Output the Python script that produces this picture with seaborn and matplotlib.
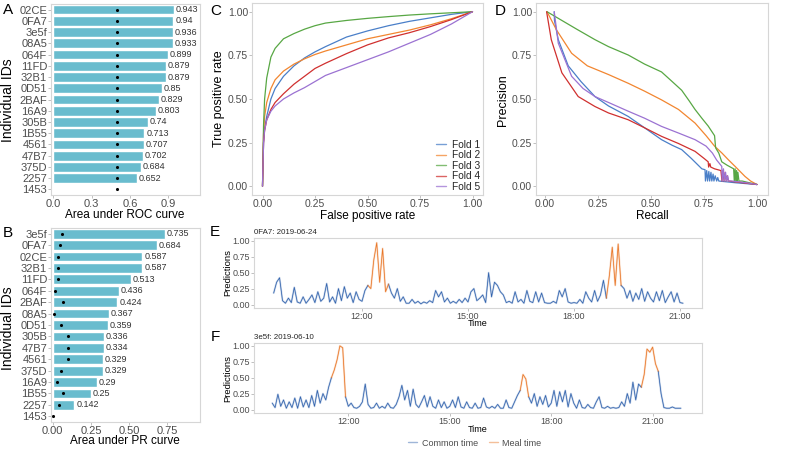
import numpy as np
import pandas as pd
import matplotlib
matplotlib.use("Agg")
import matplotlib.pyplot as plt
from matplotlib.lines import Line2D
import seaborn as sns

sns.set_theme(style="white")
plt.rcParams['font.family'] = ['Liberation Sans', 'DejaVu Sans']

# ---- A: AUC of ROC per individual (dot = random baseline)
roc_ids = ['02CE', '0FA7', '3e5f', '08A5', '064F', '11FD', '32B1', '0D51', '2BAF',
           '16A9', '305B', '1B55', '4561', '47B7', '375D', '2257', '1453']
roc_auc = [0.943, 0.94, 0.936, 0.933, 0.899, 0.879, 0.879, 0.85, 0.829,
           0.803, 0.74, 0.713, 0.707, 0.702, 0.684, 0.652, np.nan]
roc_base = [0.5, 0.5, 0.5, 0.5, 0.5, 0.5, 0.5, 0.5, 0.5,
            0.5, 0.5, 0.5, 0.5, 0.5, 0.5, 0.5, 0.5]

# ---- B: AUC of PR per individual (dot = prevalence baseline)
pr_ids = ['3e5f', '0FA7', '02CE', '32B1', '11FD', '064F', '2BAF', '08A5', '0D51',
          '305B', '47B7', '4561', '375D', '16A9', '1B55', '2257', '1453']
pr_auc = [0.735, 0.684, 0.587, 0.587, 0.513, 0.436, 0.424, 0.367, 0.359,
          0.336, 0.334, 0.329, 0.329, 0.29, 0.25, 0.142, np.nan]
pr_base = [0.059, 0.048, 0.037, 0.035, 0.035, 0.015, 0.065, 0.009, 0.052,
           0.10, 0.10, 0.10, 0.057, 0.03, 0.065, 0.039, 0.0]

# ---- C: ROC curves per fold
fpr = [0, 0.005, 0.01, 0.02, 0.04, 0.06, 0.1, 0.15, 0.2, 0.25, 0.3, 0.4, 0.5, 0.6, 0.7, 0.8, 0.9, 1.0]
tpr_fold1 = [0, 0.25, 0.33, 0.40, 0.50, 0.56, 0.63, 0.69, 0.735, 0.77, 0.80, 0.855, 0.89, 0.92, 0.945, 0.965, 0.985, 1]
tpr_fold2 = [0, 0.30, 0.40, 0.48, 0.56, 0.61, 0.66, 0.70, 0.73, 0.755, 0.775, 0.81, 0.845, 0.87, 0.895, 0.925, 0.96, 1]
tpr_fold3 = [0, 0.35, 0.50, 0.62, 0.74, 0.79, 0.845, 0.875, 0.90, 0.92, 0.935, 0.95, 0.962, 0.972, 0.981, 0.988, 0.994, 1]
tpr_fold4 = [0, 0.25, 0.32, 0.38, 0.44, 0.48, 0.53, 0.585, 0.63, 0.675, 0.705, 0.76, 0.81, 0.85, 0.88, 0.915, 0.955, 1]
tpr_fold5 = [0, 0.25, 0.32, 0.38, 0.43, 0.46, 0.50, 0.535, 0.565, 0.60, 0.635, 0.68, 0.725, 0.77, 0.82, 0.87, 0.93, 1]

# ---- D: precision-recall curves per fold (recall, precision)
pr_fold1 = [(0.044, 1.0), (0.045, 0.95), (0.063, 0.84), (0.11, 0.69), (0.17, 0.6), (0.236, 0.514), (0.3, 0.46),
            (0.393, 0.4), (0.47, 0.335), (0.55, 0.267), (0.6, 0.235), (0.645, 0.21), (0.69, 0.16), (0.74, 0.1),
            (0.755, 0.095), (0.757, 0.03), (0.763, 0.09), (0.767, 0.03), (0.773, 0.085), (0.777, 0.03),
            (0.783, 0.08), (0.787, 0.03), (0.793, 0.07), (0.797, 0.03), (0.803, 0.06), (0.81, 0.03),
            (0.815, 0.05), (0.82, 0.03), (0.9, 0.02), (1.0, 0.01)]
pr_fold2 = [(0.01, 1.0), (0.055, 0.895), (0.126, 0.762), (0.2, 0.69), (0.3, 0.64), (0.393, 0.59), (0.47, 0.545),
            (0.55, 0.495), (0.63, 0.44), (0.708, 0.362), (0.76, 0.29), (0.8, 0.23), (0.835, 0.19), (0.865, 0.152),
            (0.9, 0.11), (0.943, 0.057), (0.97, 0.03), (1.0, 0.01)]
pr_fold3 = [(0.01, 1.0), (0.08, 0.95), (0.15, 0.9), (0.236, 0.84), (0.3, 0.8), (0.393, 0.752), (0.47, 0.7),
            (0.55, 0.655), (0.6, 0.6), (0.645, 0.55), (0.68, 0.49), (0.708, 0.44), (0.74, 0.39), (0.77, 0.345),
            (0.8, 0.29), (0.805, 0.22), (0.82, 0.19), (0.834, 0.14), (0.86, 0.12), (0.89, 0.1), (0.893, 0.03),
            (0.897, 0.1), (0.9, 0.03), (0.904, 0.09), (0.907, 0.03), (0.91, 0.08), (0.915, 0.03), (0.93, 0.03),
            (1.0, 0.01)]
pr_fold4 = [(0.008, 1.0), (0.03, 0.84), (0.08, 0.65), (0.157, 0.514), (0.236, 0.457), (0.3, 0.42), (0.393, 0.381),
            (0.47, 0.335), (0.55, 0.286), (0.63, 0.245), (0.708, 0.2), (0.75, 0.16), (0.77, 0.14), (0.772, 0.11),
            (0.778, 0.13), (0.782, 0.11), (0.8, 0.1), (0.83, 0.09), (0.835, 0.03), (0.84, 0.09), (0.845, 0.03),
            (0.85, 0.08), (0.855, 0.03), (0.86, 0.06), (0.865, 0.03), (0.9, 0.025), (1.0, 0.01)]
pr_fold5 = [(0.044, 1.0), (0.063, 0.82), (0.126, 0.63), (0.18, 0.56), (0.236, 0.514), (0.3, 0.48), (0.393, 0.43),
            (0.47, 0.39), (0.55, 0.343), (0.63, 0.305), (0.708, 0.267), (0.76, 0.23), (0.79, 0.19), (0.81, 0.15),
            (0.834, 0.114), (0.836, 0.03), (0.842, 0.1), (0.846, 0.03), (0.852, 0.08), (0.856, 0.03),
            (0.862, 0.06), (0.866, 0.03), (0.88, 0.03), (0.95, 0.02), (1.0, 0.01)]

folds = ['Fold 1', 'Fold 2', 'Fold 3', 'Fold 4', 'Fold 5']
fold_colors = ['#4a7fc8', '#f28630', '#58a744', '#d0302f', '#9b72d2']

# ---- E / F: predictions every 5 minutes
e_title = '0FA7: 2019-06-24'
e_start = '9:30'
e_pred = [0.18, 0.35, 0.42, 0.06, 0.02, 0.10,
          0.03, 0.27, 0.04, 0.02, 0.12, 0.02, 0.08, 0.15, 0.03, 0.20, 0.05, 0.10,
          0.33, 0.04, 0.12, 0.02, 0.25, 0.06, 0.28, 0.10, 0.18, 0.03, 0.20, 0.08,
          0.05, 0.22, 0.30, 0.25, 0.70, 0.97, 0.35, 0.88, 0.20, 0.32, 0.18, 0.10,
          0.25, 0.05, 0.12, 0.02, 0.02, 0.08, 0.02, 0.05, 0.01, 0.04, 0.02, 0.06,
          0.03, 0.22, 0.12, 0.20, 0.04, 0.10, 0.02, 0.05, 0.02, 0.08, 0.03, 0.10,
          0.04, 0.20, 0.25, 0.06, 0.10, 0.15, 0.03, 0.50, 0.12, 0.35, 0.30, 0.20,
          0.15, 0.03, 0.05, 0.02, 0.20, 0.04, 0.08, 0.02, 0.22, 0.05, 0.03, 0.20,
          0.04, 0.18, 0.03, 0.02, 0.02, 0.05, 0.02, 0.22, 0.12, 0.25, 0.04, 0.02,
          0.03, 0.02, 0.08, 0.02, 0.20, 0.10, 0.04, 0.22, 0.05, 0.15, 0.38, 0.10,
          0.45, 0.90, 0.30, 0.95, 0.30, 0.25, 0.10, 0.22, 0.05, 0.18, 0.08, 0.25,
          0.05, 0.20, 0.10, 0.04, 0.20, 0.06, 0.22, 0.03, 0.12, 0.20, 0.04, 0.18,
          0.03, 0.02]
e_meals = [('12:15', '12:40'), ('19:00', '19:15')]

f_title = '3e5f: 2019-06-10'
f_start = '9:45'
f_pred = [0.10, 0.03, 0.24,
          0.05, 0.15, 0.02, 0.12, 0.03, 0.18, 0.02, 0.20, 0.04, 0.15, 0.03, 0.22,
          0.05, 0.30, 0.10, 0.25, 0.15, 0.35, 0.50, 0.62, 0.78, 1.00, 0.97, 0.20,
          0.05, 0.10, 0.03, 0.02, 0.05, 0.12, 0.40, 0.08, 0.02, 0.03, 0.10, 0.02,
          0.05, 0.02, 0.10, 0.03, 0.02, 0.08, 0.20, 0.38, 0.15, 0.30, 0.05, 0.32,
          0.08, 0.03, 0.12, 0.22, 0.04, 0.20, 0.05, 0.02, 0.15, 0.03, 0.12, 0.02,
          0.05, 0.15, 0.03, 0.20, 0.04, 0.02, 0.12, 0.03, 0.02, 0.10, 0.02, 0.03,
          0.18, 0.04, 0.02, 0.05, 0.02, 0.08, 0.02, 0.02, 0.15, 0.03, 0.02, 0.12,
          0.22, 0.30, 0.55, 0.48, 0.20, 0.10, 0.25, 0.05, 0.20, 0.08, 0.22, 0.04,
          0.10, 0.30, 0.05, 0.28, 0.12, 0.30, 0.04, 0.25, 0.10, 0.02, 0.15, 0.03,
          0.02, 0.08, 0.03, 0.02, 0.12, 0.20, 0.03, 0.02, 0.05, 0.02, 0.03, 0.02,
          0.03, 0.12, 0.05, 0.25, 0.10, 0.43, 0.15, 0.40, 0.35, 0.55, 0.95, 0.90,
          0.98, 0.72, 0.60, 0.25, 0.03, 0.02, 0.02, 0.04, 0.02, 0.02, 0.02]
f_meals = [('11:35', '11:50'), ('17:10', '17:15'), ('20:45', '21:05')]

time_ticks = [12, 15, 18, 21]
time_labels = ['12:00', '15:00', '18:00', '21:00']
period_colors = {'Common time': '#2a5daa', 'Meal time': '#e8711f'}

bar_color = '#69bcce'
tick_col = '#4d4d4d'


def hm(s):
    h, m = s.split(':')
    return int(h) + int(m) / 60


def series_frame(start, values, meals):
    t = hm(start) + np.arange(len(values)) * 5 / 60
    meal = np.zeros(len(values), dtype=bool)
    for a, b in meals:
        meal |= (t >= hm(a) - 1e-6) & (t <= hm(b) + 1e-6)
    rows = []
    seg, i, n = 0, 0, len(values)
    while i < n:
        j = i
        while j < n and meal[j] == meal[i]:
            j += 1
        lo, hi = i, j
        if meal[i]:
            lo, hi = max(i - 1, 0), min(j + 1, n)
        for k in range(lo, hi):
            rows.append((t[k], values[k], 'Meal time' if meal[i] else 'Common time', seg))
        seg += 1
        i = j
    return pd.DataFrame(rows, columns=['time', 'pred', 'period', 'segment'])


fig = plt.figure(figsize=(8, 4.5), dpi=100)


def add_ax(l, t, r, b):
    return fig.add_axes([l / 800, 1 - b / 450, (r - l) / 800, (b - t) / 450])


def label(x, y, s, size, rot=0):
    fig.text(x / 800, 1 - y / 450, s, ha='center', va='center', fontsize=size,
             rotation=rot, color='black')


def style(ax, size=7.5):
    for s in ax.spines.values():
        s.set_visible(True)
        s.set_color('#d6d6d6')
        s.set_linewidth(0.8)
    ax.tick_params(length=2, width=0.6, color='#b5b5b5', labelcolor=tick_col,
                   labelsize=size, pad=0.8, left=True, bottom=True)
    ax.set_xlabel('')
    ax.set_ylabel('')


# ---- A and B
for (l, t, r, b), ids, auc, base, xl, ticks, tlabels in [
        ((51, 4, 200, 195), roc_ids, roc_auc, roc_base, (-0.018, 1.148),
         [0.0, 0.3, 0.6, 0.9], ['0.0', '0.3', '0.6', '0.9']),
        ((51, 228, 200, 422), pr_ids, pr_auc, pr_base, (-0.011, 0.964),
         [0.0, 0.25, 0.5, 0.75], ['0.00', '0.25', '0.50', '0.75'])]:
    ax = add_ax(l, t, r, b)
    sns.barplot(x=auc, y=ids, order=ids, color=bar_color, saturation=1,
                width=0.86, errorbar=None, ax=ax)
    sns.scatterplot(x=base, y=np.arange(len(ids)), color='black', s=5,
                    linewidth=0, ax=ax)
    for i, v in enumerate(auc):
        if not np.isnan(v):
            ax.text(v + 0.012 * (xl[1] - xl[0]), i, f'{v:g}', va='center', ha='left',
                    fontsize=6.5, color='#333333')
    ax.set_xlim(*xl)
    ax.set_ylim(len(ids) - 0.5, -0.5)
    ax.set_xticks(ticks, tlabels)
    style(ax, size=8)

label(125, 215, 'Area under ROC curve', 8.5)
label(125, 441, 'Area under PR curve', 8.5)
label(8, 100, 'Individual IDs', 10, 90)
label(8, 328, 'Individual IDs', 10, 90)

# ---- C: ROC
roc_df = pd.DataFrame({
    'fpr': fpr * 5,
    'tpr': tpr_fold1 + tpr_fold2 + tpr_fold3 + tpr_fold4 + tpr_fold5,
    'fold': sum([[f] * len(fpr) for f in folds], []),
})
axc = add_ax(252, 3, 483, 195)
sns.lineplot(data=roc_df, x='fpr', y='tpr', hue='fold', hue_order=folds,
             palette=fold_colors, estimator=None, sort=False, lw=0.9,
             legend=False, ax=axc)
axc.set_xlim(-0.05, 1.05)
axc.set_ylim(-0.05, 1.05)
ticks01 = [0, 0.25, 0.5, 0.75, 1.0]
labels01 = ['0.00', '0.25', '0.50', '0.75', '1.00']
axc.set_xticks(ticks01, labels01)
axc.set_yticks(ticks01, labels01)
style(axc)
handles = [Line2D([], [], color=c, lw=1, alpha=0.75) for c in fold_colors]
axc.legend(handles, folds, loc='lower right', frameon=False, fontsize=7.3,
           handlelength=0.9, handletextpad=0.6, labelspacing=0.05,
           borderaxespad=0.1, borderpad=0.2)
label(368, 216, 'False positive rate', 8.5)
label(219, 99, 'True positive rate', 9, 90)

# ---- D: precision-recall
pr_rows = []
for f, pts in zip(folds, [pr_fold1, pr_fold2, pr_fold3, pr_fold4, pr_fold5]):
    for rec, prec in pts:
        pr_rows.append((rec, prec, f))
pr_df = pd.DataFrame(pr_rows, columns=['recall', 'precision', 'fold'])
axd = add_ax(536, 3, 768, 195)
sns.lineplot(data=pr_df, x='recall', y='precision', hue='fold', hue_order=folds,
             palette=fold_colors, estimator=None, sort=False, lw=0.9,
             legend=False, ax=axd)
axd.set_xlim(-0.042, 1.052)
axd.set_ylim(-0.05, 1.05)
axd.set_xticks(ticks01, labels01)
axd.set_yticks(ticks01, labels01)
style(axd)
label(652, 216, 'Recall', 8.5)
label(503, 100, 'Precision', 9, 90)

# ---- E and F: prediction time series
for (l, t, r, b), start, pred, meals, title, xl in [
        ((254, 238, 702, 308), e_start, e_pred, e_meals, e_title, (8.943, 21.623)),
        ((254, 343, 702, 413), f_start, f_pred, f_meals, f_title, (9.21, 22.46))]:
    ax = add_ax(l, t, r, b)
    df = series_frame(start, pred, meals)
    sns.lineplot(data=df, x='time', y='pred', hue='period',
                 hue_order=['Common time', 'Meal time'], palette=period_colors,
                 units='segment', estimator=None, sort=False, lw=1.4, alpha=0.25,
                 legend=False, ax=ax)
    sns.lineplot(data=df, x='time', y='pred', hue='period',
                 hue_order=['Common time', 'Meal time'], palette=period_colors,
                 units='segment', estimator=None, sort=False, lw=0.55, alpha=0.95,
                 legend=False, ax=ax)
    ax.set_xlim(*xl)
    ax.set_ylim(-0.055, 1.045)
    ax.set_xticks(time_ticks, time_labels)
    ax.set_yticks(ticks01, labels01)
    ax.set_title(title, fontsize=5.7, loc='left', pad=3)
    style(ax, size=6.5)
    label(478, b + 16, 'Time', 6.5)
    label(228, (t + b) / 2, 'Predictions', 6.8, 90)

leg_handles = [Line2D([], [], color=period_colors['Common time'], lw=1, alpha=0.45),
               Line2D([], [], color=period_colors['Meal time'], lw=1, alpha=0.45)]
fig.legend(leg_handles, ['Common time', 'Meal time'], loc='center',
           bbox_to_anchor=(475 / 800, 1 - 443 / 450), ncol=2, frameon=False,
           fontsize=6.5, handlelength=1.0, handletextpad=0.5, columnspacing=1.2,
           labelcolor=tick_col)

# ---- panel letters
for letter, x, y in [('A', 8, 10), ('B', 8, 233), ('C', 216, 11), ('D', 500, 11),
                     ('E', 215, 232), ('F', 215, 337)]:
    label(x, y, letter, 11)

fig.savefig('out.png', dpi=100)
